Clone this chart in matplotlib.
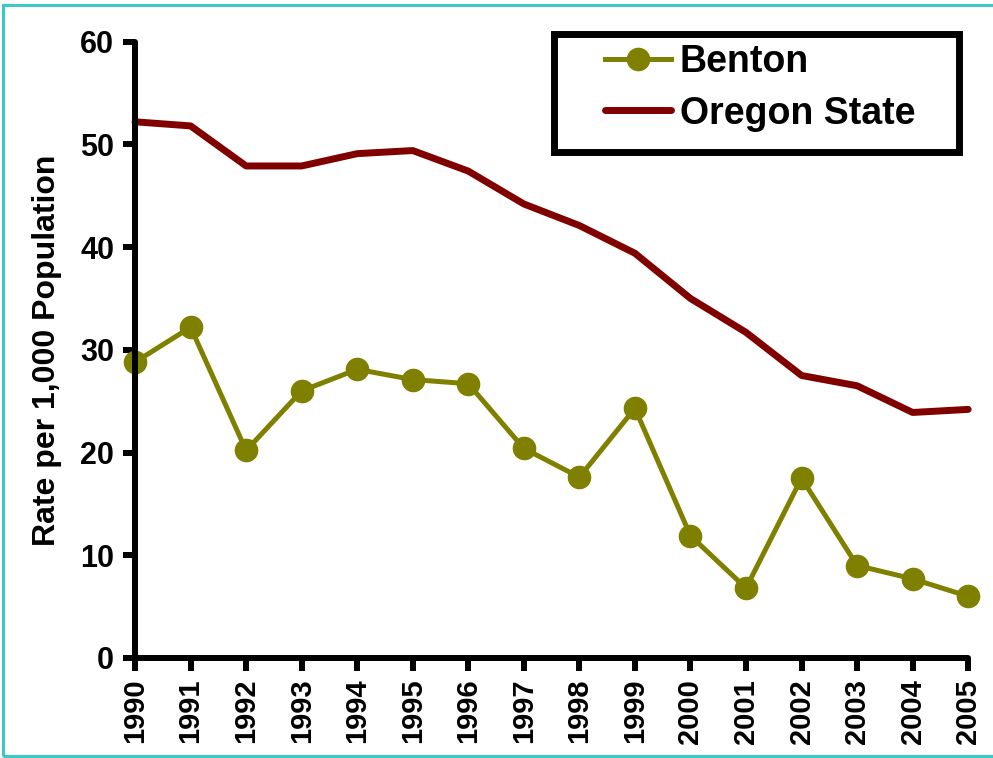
import matplotlib
matplotlib.use("Agg")
import matplotlib.pyplot as plt
from matplotlib.patches import Rectangle

# Data
years = list(range(1990, 2006))
benton = [28.8, 32.2, 20.2, 26.0, 28.1, 27.1, 26.7, 20.4,
          17.6, 24.3, 11.9, 6.8, 17.5, 9.0, 7.7, 6.0]
oregon = [52.2, 51.8, 47.9, 47.9, 49.1, 49.4, 47.4, 44.2,
          42.1, 39.4, 35.0, 31.7, 27.5, 26.5, 23.9, 24.2]
y_ticks = [0, 10, 20, 30, 40, 50, 60]

OLIVE = "#808000"
MAROON = "#800000"

plt.rcParams["font.family"] = ["Liberation Sans", "DejaVu Sans"]
plt.rcParams["font.weight"] = "bold"

fig = plt.figure(figsize=(9.93, 7.58), dpi=100)
ax = fig.add_axes([0.136, 0.132, 0.839, 0.813])

ax.plot(years, benton, color=OLIVE, lw=3.6, marker="o", ms=16,
        clip_on=False, label="Benton", zorder=2)
ax.plot(years, oregon, color=MAROON, lw=5, solid_capstyle="round",
        solid_joinstyle="round", clip_on=False, label="Oregon State", zorder=2)

ax.set_xlim(1990, 2005)
ax.set_ylim(0, 60)
ax.set_xticks(years)
ax.set_xticklabels([str(y) for y in years], rotation=90, fontsize=21,
                   fontweight="bold")
ax.set_yticks(y_ticks)
ax.set_yticklabels([str(v) for v in y_ticks], fontsize=22, fontweight="bold")
ax.set_ylabel("Rate per 1,000 Population", fontsize=23, fontweight="bold",
              labelpad=13)

for side in ("top", "right"):
    ax.spines[side].set_visible(False)
for side in ("left", "bottom"):
    ax.spines[side].set_linewidth(4.3)
    ax.spines[side].set_zorder(3)
    ax.spines[side].set_capstyle("round")
ax.tick_params(length=9, width=4.3, pad=6, color="black")

# legend: handles placed without frame, box drawn separately
leg = ax.legend(loc="center left", bbox_to_anchor=(605 / 993, 1 - 88 / 758),
                bbox_transform=fig.transFigure, frameon=False,
                handlelength=1.75, handletextpad=0.25, labelspacing=0.4,
                borderpad=0, borderaxespad=0, prop={"weight": "bold", "size": 27})
fig.add_artist(Rectangle((554 / 993, 1 - 152 / 758), 405 / 993, 118 / 758,
                         transform=fig.transFigure, fill=False,
                         edgecolor="black", lw=5))

# thin turquoise border round the picture
fig.add_artist(Rectangle((3 / 993, 2 / 758), 1.2, 1 - 7 / 758,
                         transform=fig.transFigure, fill=False,
                         edgecolor="#3cc8c8", lw=2.2))

fig.savefig("out.png", dpi=100)
